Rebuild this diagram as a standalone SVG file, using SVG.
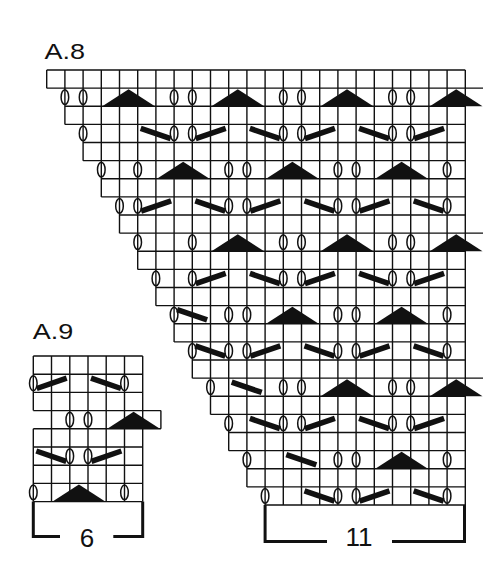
<svg xmlns="http://www.w3.org/2000/svg" width="500" height="568" viewBox="0 0 500 568">
<style>
.g{fill:none;stroke:#111;stroke-width:1.4}
.yo{fill:none;stroke:#111;stroke-width:1.5}
.bar{stroke:#111;stroke-width:5.5;stroke-linecap:butt}
.tri{fill:#111}
.br{fill:none;stroke:#111;stroke-width:3}
.lbl{font-family:"Liberation Sans",Arial,sans-serif;fill:#111}
</style>
<defs>
<ellipse id="o" class="yo" cx="0" cy="9.06" rx="3.8" ry="7.4"/>
<path id="t" class="tri" d="M-26.3,18.1 L0,1.2 L26.3,18.1 Z"/>
<line id="bs" class="bar" x1="3" y1="4" x2="33" y2="14.3"/>
<line id="fs" class="bar" x1="3.4" y1="14.3" x2="33.4" y2="4"/>
</defs>
<rect width="500" height="568" fill="#fff"/>

<g id="labels" class="lbl">
<text transform="translate(44.5,58.5) scale(1.2,1)" font-size="22.5">A.8</text>
<text transform="translate(32.8,338.5) scale(1.2,1)" font-size="22.5">A.9</text>
<text x="359" y="545.5" font-size="26" text-anchor="middle">11</text>
<text x="87" y="547" font-size="26" text-anchor="middle">6</text>
</g>

<g id="A8">
<path id="A8-grid" class="g" d="M46.7,70V88.13M64.9,70V124.38M83.1,70V160.63M101.3,70V196.88M119.5,70V233.13M137.7,70V269.38M155.9,70V305.63M174.1,70V341.88M192.3,70V378.13M210.5,70V414.38M228.7,70V450.63M246.9,70V486.88M265.1,70V505M283.3,70V505M301.5,70V505M319.7,70V505M337.9,70V505M356.1,70V505M374.3,70V505M392.5,70V505M410.7,70V505M428.9,70V505M447.1,70V505M465.3,70V505
M46.7,70H465.3M46.7,88.13H483M64.9,106.25H465.3M64.9,124.38H465.3M83.1,142.5H465.3M83.1,160.63H465.3M101.3,178.75H465.3M101.3,196.88H465.3M119.5,215H465.3M119.5,233.13H483M137.7,251.25H465.3M137.7,269.38H465.3M155.9,287.5H465.3M155.9,305.63H465.3M174.1,323.75H465.3M174.1,341.88H465.3M192.3,360H465.3M192.3,378.13H483M210.5,396.25H465.3M210.5,414.38H465.3M228.7,432.5H465.3M228.7,450.63H465.3M246.9,468.75H465.3M246.9,486.88H465.3M265.1,505H465.3"/>
<g id="A8-r2" transform="translate(0,88.13)">
<use href="#o" x="64.9"/><use href="#o" x="83.1"/><use href="#o" x="174.1"/><use href="#o" x="192.3"/><use href="#o" x="283.3"/><use href="#o" x="301.5"/><use href="#o" x="392.5"/><use href="#o" x="410.7"/>
<use href="#t" x="128.6"/><use href="#t" x="237.8"/><use href="#t" x="347"/><use href="#t" x="456.2"/>
</g>
<g id="A8-r4" transform="translate(0,124.38)">
<use href="#o" x="83.1"/><use href="#o" x="174.1"/><use href="#o" x="192.3"/><use href="#o" x="283.3"/><use href="#o" x="301.5"/><use href="#o" x="392.5"/><use href="#o" x="410.7"/>
<use href="#bs" x="137.7"/><use href="#bs" x="246.9"/><use href="#bs" x="356.1"/>
<use href="#fs" x="192.3"/><use href="#fs" x="301.5"/><use href="#fs" x="410.7"/>
</g>
<g id="A8-r6" transform="translate(0,160.63)">
<use href="#o" x="101.3"/><use href="#o" x="137.7"/><use href="#o" x="228.7"/><use href="#o" x="246.9"/><use href="#o" x="337.9"/><use href="#o" x="356.1"/><use href="#o" x="447.1"/>
<use href="#t" x="183.2"/><use href="#t" x="292.4"/><use href="#t" x="401.6"/>
</g>
<g id="A8-r8" transform="translate(0,196.88)">
<use href="#o" x="119.5"/><use href="#o" x="137.7"/><use href="#o" x="228.7"/><use href="#o" x="246.9"/><use href="#o" x="337.9"/><use href="#o" x="356.1"/><use href="#o" x="447.1"/>
<use href="#fs" x="137.7"/><use href="#fs" x="246.9"/><use href="#fs" x="356.1"/>
<use href="#bs" x="192.3"/><use href="#bs" x="301.5"/><use href="#bs" x="410.7"/>
</g>
<g id="A8-r10" transform="translate(0,233.13)">
<use href="#o" x="137.7"/><use href="#o" x="192.3"/><use href="#o" x="283.3"/><use href="#o" x="301.5"/><use href="#o" x="392.5"/><use href="#o" x="410.7"/>
<use href="#t" x="237.8"/><use href="#t" x="347"/><use href="#t" x="456.2"/>
</g>
<g id="A8-r12" transform="translate(0,269.38)">
<use href="#o" x="155.9"/><use href="#o" x="192.3"/><use href="#o" x="283.3"/><use href="#o" x="301.5"/><use href="#o" x="392.5"/><use href="#o" x="410.7"/>
<use href="#fs" x="192.3"/><use href="#fs" x="301.5"/><use href="#fs" x="410.7"/>
<use href="#bs" x="246.9"/><use href="#bs" x="356.1"/>
</g>
<g id="A8-r14" transform="translate(0,305.63)">
<use href="#o" x="174.1"/><use href="#o" x="228.7"/><use href="#o" x="246.9"/><use href="#o" x="337.9"/><use href="#o" x="356.1"/><use href="#o" x="447.1"/>
<use href="#bs" x="174.1"/>
<use href="#t" x="292.4"/><use href="#t" x="401.6"/>
</g>
<g id="A8-r16" transform="translate(0,341.88)">
<use href="#o" x="192.3"/><use href="#o" x="228.7"/><use href="#o" x="246.9"/><use href="#o" x="337.9"/><use href="#o" x="356.1"/><use href="#o" x="447.1"/>
<use href="#bs" x="192.3"/><use href="#bs" x="301.5"/><use href="#bs" x="410.7"/>
<use href="#fs" x="246.9"/><use href="#fs" x="356.1"/>
</g>
<g id="A8-r18" transform="translate(0,378.13)">
<use href="#o" x="210.5"/><use href="#o" x="283.3"/><use href="#o" x="301.5"/><use href="#o" x="392.5"/><use href="#o" x="410.7"/>
<use href="#bs" x="228.7"/>
<use href="#t" x="347"/><use href="#t" x="456.2"/>
</g>
<g id="A8-r20" transform="translate(0,414.38)">
<use href="#o" x="228.7"/><use href="#o" x="283.3"/><use href="#o" x="301.5"/><use href="#o" x="392.5"/><use href="#o" x="410.7"/>
<use href="#bs" x="246.9"/><use href="#bs" x="356.1"/>
<use href="#fs" x="301.5"/><use href="#fs" x="410.7"/>
</g>
<g id="A8-r22" transform="translate(0,450.63)">
<use href="#o" x="246.9"/><use href="#o" x="337.9"/><use href="#o" x="356.1"/><use href="#o" x="447.1"/>
<use href="#bs" x="283.3"/>
<use href="#t" x="401.6"/>
</g>
<g id="A8-r24" transform="translate(0,486.88)">
<use href="#o" x="265.1"/><use href="#o" x="337.9"/><use href="#o" x="356.1"/><use href="#o" x="447.1"/>
<use href="#bs" x="301.5"/><use href="#bs" x="410.7"/>
<use href="#fs" x="356.1"/>
</g>
<path id="A8-bracket" class="br" d="M265.1,505V541.5H327M392,541.5H464.5V505"/>
</g>

<g id="A9">
<path id="A9-grid" class="g" d="M33.3,356V410.6M33.3,428.8V501.6M51.5,356V501.6M69.8,356V501.6M88,356V501.6M106.2,356V501.6M124.5,356V501.6M142.7,356V501.6M160.9,410.6V428.8
M33.3,356H142.7M33.3,374.2H142.7M33.3,392.4H142.7M33.3,410.6H160.9M33.3,428.8H160.9M33.3,447H142.7M33.3,465.2H142.7M33.3,483.4H142.7M33.3,501.6H142.7"/>
<g id="A9-r2" transform="translate(0,374.2)">
<use href="#o" x="33.3"/><use href="#o" x="124.5"/>
<use href="#fs" x="33.3"/><use href="#bs" x="88"/>
</g>
<g id="A9-r4" transform="translate(0,410.6)">
<use href="#o" x="69.8"/><use href="#o" x="88"/>
<use href="#t" x="133.6"/>
</g>
<g id="A9-r6" transform="translate(0,447)">
<use href="#bs" x="33.3"/>
<use href="#o" x="69.8"/><use href="#o" x="88"/>
<use href="#fs" x="88"/>
</g>
<g id="A9-r8" transform="translate(0,483.4)">
<use href="#o" x="33.3"/><use href="#o" x="124.5"/>
<use href="#t" x="78.9"/>
</g>
<path id="A9-bracket" class="br" d="M33.3,501.6V536.5H60M113.3,536.5H142.7V501.6"/>
</g>
</svg>
